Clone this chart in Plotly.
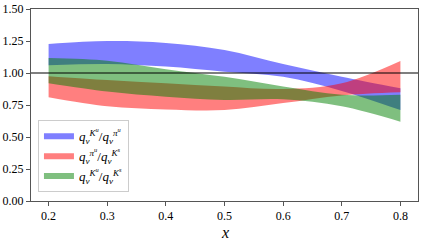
import plotly.graph_objects as go

x = [0.2, 0.3, 0.4, 0.5, 0.6, 0.7, 0.8]

blue_upper = [1.227, 1.25, 1.235, 1.18, 1.07, 0.97, 0.88]
blue_lower = [1.06, 1.07, 1.05, 1.01, 0.97, 0.86, 0.71]

red_upper = [0.975, 0.945, 0.92, 0.895, 0.875, 0.92, 1.094]
red_lower = [0.81, 0.74, 0.715, 0.71, 0.765, 0.825, 0.85]

green_upper = [1.117, 1.096, 1.03, 0.97, 0.895, 0.83, 0.83]
green_lower = [0.92, 0.855, 0.815, 0.79, 0.795, 0.74, 0.62]

x_ticks = [0.2, 0.3, 0.4, 0.5, 0.6, 0.7, 0.8]
x_tick_labels = ["0.2", "0.3", "0.4", "0.5", "0.6", "0.7", "0.8"]
y_ticks = [0, 0.25, 0.5, 0.75, 1.0, 1.25, 1.5]
y_tick_labels = ["0.00", "0.25", "0.50", "0.75", "1.00", "1.25", "1.50"]

labels = [
    "<i>q</i><sub><i>v</i></sub><sup><i>K</i><sup><i>u</i></sup></sup>/<i>q</i><sub><i>v</i></sub><sup><i>π</i><sup><i>u</i></sup></sup>",
    "<i>q</i><sub><i>v</i></sub><sup><i>π</i><sup><i>u</i></sup></sup>/<i>q</i><sub><i>v</i></sub><sup><i>K</i><sup><i>s</i></sup></sup>",
    "<i>q</i><sub><i>v</i></sub><sup><i>K</i><sup><i>u</i></sup></sup>/<i>q</i><sub><i>v</i></sub><sup><i>K</i><sup><i>s</i></sup></sup>",
]
colors = ["rgba(0,0,255,0.5)", "rgba(255,0,0,0.5)", "rgba(0,128,0,0.5)"]
bands = [(blue_lower, blue_upper), (red_lower, red_upper), (green_lower, green_upper)]

SERIF = "Liberation Serif, Times New Roman, serif"

fig = go.Figure()
for (lo, up), c, name in zip(bands, colors, labels):
    fig.add_trace(go.Scatter(x=x, y=lo, mode="lines", line=dict(width=0, shape="spline"),
                             showlegend=False, hoverinfo="skip"))
    fig.add_trace(go.Scatter(x=x, y=up, mode="none", line=dict(width=0, shape="spline"),
                             fill="tonexty", fillcolor=c, name=name))

fig.add_shape(type="line", xref="paper", x0=0, x1=1, yref="y", y0=1, y1=1,
              line=dict(color="black", width=1.2))

axis_common = dict(showline=True, linecolor="#555", linewidth=1, mirror=True,
                   ticks="outside", ticklen=4, tickcolor="#555", showgrid=False,
                   zeroline=False, automargin=False,
                   tickfont=dict(family=SERIF, size=12, color="black"))
fig.update_xaxes(range=[0.17, 0.83], tickvals=x_ticks, ticktext=x_tick_labels, **axis_common)
fig.update_yaxes(range=[0, 1.5], tickvals=y_ticks, ticktext=y_tick_labels, **axis_common)

fig.add_annotation(text="<i>x</i>", xref="paper", yref="paper", x=0.5, y=-0.165,
                   xanchor="center", yanchor="middle", showarrow=False,
                   font=dict(family=SERIF, size=16, color="black"))

fig.update_layout(
    width=423, height=241,
    margin=dict(l=31, r=5, t=9, b=40),
    plot_bgcolor="white", paper_bgcolor="white",
    legend=dict(x=0.018, y=0.42, xanchor="left", yanchor="top", traceorder="normal",
                bordercolor="#ccc", borderwidth=1, bgcolor="rgba(255,255,255,0.8)",
                font=dict(family=SERIF, size=13, color="black"),
                tracegroupgap=2),
)
fig.write_html("out.html", config={"displayModeBar": False},
               post_script="document.body.style.margin='0px';")
